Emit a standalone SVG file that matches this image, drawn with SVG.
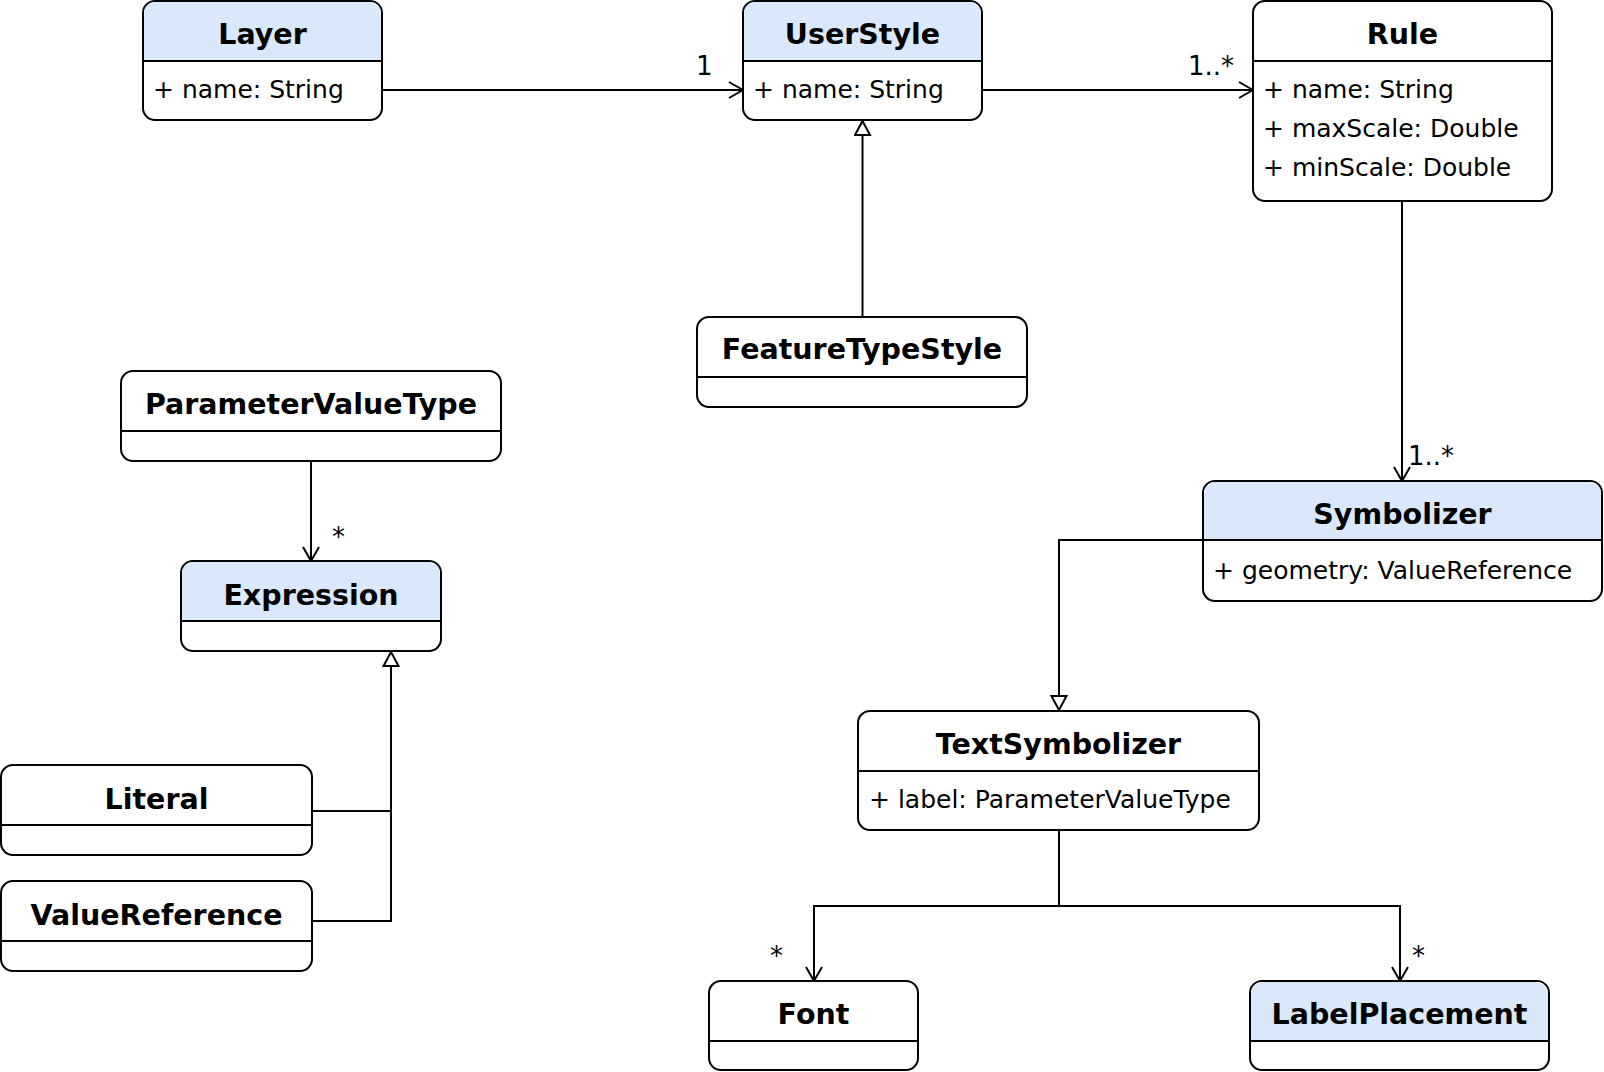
<svg xmlns="http://www.w3.org/2000/svg" width="1604" height="1072" viewBox="0 0 1604 1072">
  <style>
    .box { fill: #ffffff; stroke: #000000; stroke-width: 2; }
    .head { fill: #dae8fc; stroke: none; }
    .div { stroke: #000000; stroke-width: 2; }
    .title { font-family: "DejaVu Sans", sans-serif; font-weight: bold; font-size: 28.5px; fill: #000000; text-anchor: middle; }
    .attr { font-family: "DejaVu Sans", sans-serif; font-size: 25px; fill: #000000; }
    .mult { font-family: "DejaVu Sans", sans-serif; font-size: 26px; fill: #000000; }
    .edge { fill: none; stroke: #000000; stroke-width: 2; }
    .assoc { marker-end: url(#open); }
    .gen { marker-end: url(#hollow); }
  </style>
  <defs>
    <marker id="open" viewBox="0 0 16 18" refX="15" refY="9" markerWidth="16" markerHeight="18" markerUnits="userSpaceOnUse" orient="auto">
      <path d="M1,1 L15,9 L1,17" fill="none" stroke="#000" stroke-width="2"/>
    </marker>
    <marker id="hollow" viewBox="0 0 18 18" refX="17" refY="9" markerWidth="18" markerHeight="18" markerUnits="userSpaceOnUse" orient="auto">
      <path d="M2,1.5 L16,9 L2,16.5 Z" fill="#fff" stroke="#000" stroke-width="2"/>
    </marker>
  </defs>

  <!-- connectors -->
  <g id="connectors">
    <path class="edge assoc" d="M382,90 L743,90"/>
    <text class="mult" x="696" y="75">1</text>
    <path class="edge assoc" d="M982,90 L1253,90"/>
    <text class="mult" x="1188" y="75">1..*</text>
    <path class="edge assoc" d="M1402,201 L1402,481"/>
    <text class="mult" x="1408" y="465">1..*</text>
    <path class="edge gen" d="M862.5,317 L862.5,120"/>
    <path class="edge gen" d="M1203,540 L1059,540 L1059,711"/>
    <path class="edge assoc" d="M311,461 L311,561"/>
    <text class="mult" x="332" y="546">*</text>
    <path class="edge gen" d="M312,811 L391,811 L391,651"/>
    <path class="edge" d="M312,921 L391,921 L391,811"/>
    <path class="edge assoc" d="M1059,830 L1059,906 L814,906 L814,981"/>
    <text class="mult" x="770" y="965">*</text>
    <path class="edge assoc" d="M1059,906 L1400,906 L1400,981"/>
    <text class="mult" x="1412" y="965">*</text>
  </g>

  <!-- class nodes -->
  <g id="layer">
    <rect class="box" x="143" y="1" width="239" height="119" rx="12"/>
    <path class="head" d="M155,2 H370 A11,11 0 0 1 381,13 V61 H144 V13 A11,11 0 0 1 155,2 Z"/>
    <line class="div" x1="143" y1="61" x2="382" y2="61"/>
    <text class="title" x="262.5" y="44">Layer</text>
    <text class="attr" x="153" y="98">+ name: String</text>
  </g>

  <g id="userstyle">
    <rect class="box" x="743" y="1" width="239" height="119" rx="12"/>
    <path class="head" d="M755,2 H970 A11,11 0 0 1 981,13 V61 H744 V13 A11,11 0 0 1 755,2 Z"/>
    <line class="div" x1="743" y1="61" x2="982" y2="61"/>
    <text class="title" x="862.5" y="44">UserStyle</text>
    <text class="attr" x="753" y="98">+ name: String</text>
  </g>

  <g id="rule">
    <rect class="box" x="1253" y="1" width="299" height="200" rx="12"/>
    <line class="div" x1="1253" y1="61" x2="1552" y2="61"/>
    <text class="title" x="1402.5" y="44">Rule</text>
    <text class="attr" x="1263" y="98">+ name: String</text>
    <text class="attr" x="1263" y="137">+ maxScale: Double</text>
    <text class="attr" x="1263" y="176">+ minScale: Double</text>
  </g>

  <g id="featuretypestyle">
    <rect class="box" x="697" y="317" width="330" height="90" rx="12"/>
    <line class="div" x1="697" y1="377" x2="1027" y2="377"/>
    <text class="title" x="862" y="359">FeatureTypeStyle</text>
  </g>

  <g id="parametervaluetype">
    <rect class="box" x="121" y="371" width="380" height="90" rx="12"/>
    <line class="div" x1="121" y1="431" x2="501" y2="431"/>
    <text class="title" x="311" y="414">ParameterValueType</text>
  </g>

  <g id="expression">
    <rect class="box" x="181" y="561" width="260" height="90" rx="12"/>
    <path class="head" d="M193,562 H429 A11,11 0 0 1 440,573 V621 H182 V573 A11,11 0 0 1 193,562 Z"/>
    <line class="div" x1="181" y1="621" x2="441" y2="621"/>
    <text class="title" x="311" y="605">Expression</text>
  </g>

  <g id="literal">
    <rect class="box" x="1" y="765" width="311" height="90" rx="12"/>
    <line class="div" x1="1" y1="825" x2="312" y2="825"/>
    <text class="title" x="156.5" y="809">Literal</text>
  </g>

  <g id="valuereference">
    <rect class="box" x="1" y="881" width="311" height="90" rx="12"/>
    <line class="div" x1="1" y1="941" x2="312" y2="941"/>
    <text class="title" x="156.5" y="925">ValueReference</text>
  </g>

  <g id="symbolizer">
    <rect class="box" x="1203" y="481" width="399" height="120" rx="12"/>
    <path class="head" d="M1215,482 H1590 A11,11 0 0 1 1601,493 V540 H1204 V493 A11,11 0 0 1 1215,482 Z"/>
    <line class="div" x1="1203" y1="540" x2="1602" y2="540"/>
    <text class="title" x="1402.5" y="524">Symbolizer</text>
    <text class="attr" x="1213" y="579">+ geometry: ValueReference</text>
  </g>

  <g id="textsymbolizer">
    <rect class="box" x="858" y="711" width="401" height="119" rx="12"/>
    <line class="div" x1="858" y1="771" x2="1259" y2="771"/>
    <text class="title" x="1058.5" y="754">TextSymbolizer</text>
    <text class="attr" x="869" y="808">+ label: ParameterValueType</text>
  </g>

  <g id="font">
    <rect class="box" x="709" y="981" width="209" height="89" rx="12"/>
    <line class="div" x1="709" y1="1041" x2="918" y2="1041"/>
    <text class="title" x="813.5" y="1024">Font</text>
  </g>

  <g id="labelplacement">
    <rect class="box" x="1250" y="981" width="299" height="89" rx="12"/>
    <path class="head" d="M1262,982 H1537 A11,11 0 0 1 1548,993 V1041 H1251 V993 A11,11 0 0 1 1262,982 Z"/>
    <line class="div" x1="1250" y1="1041" x2="1549" y2="1041"/>
    <text class="title" x="1399.5" y="1024">LabelPlacement</text>
  </g>
</svg>
